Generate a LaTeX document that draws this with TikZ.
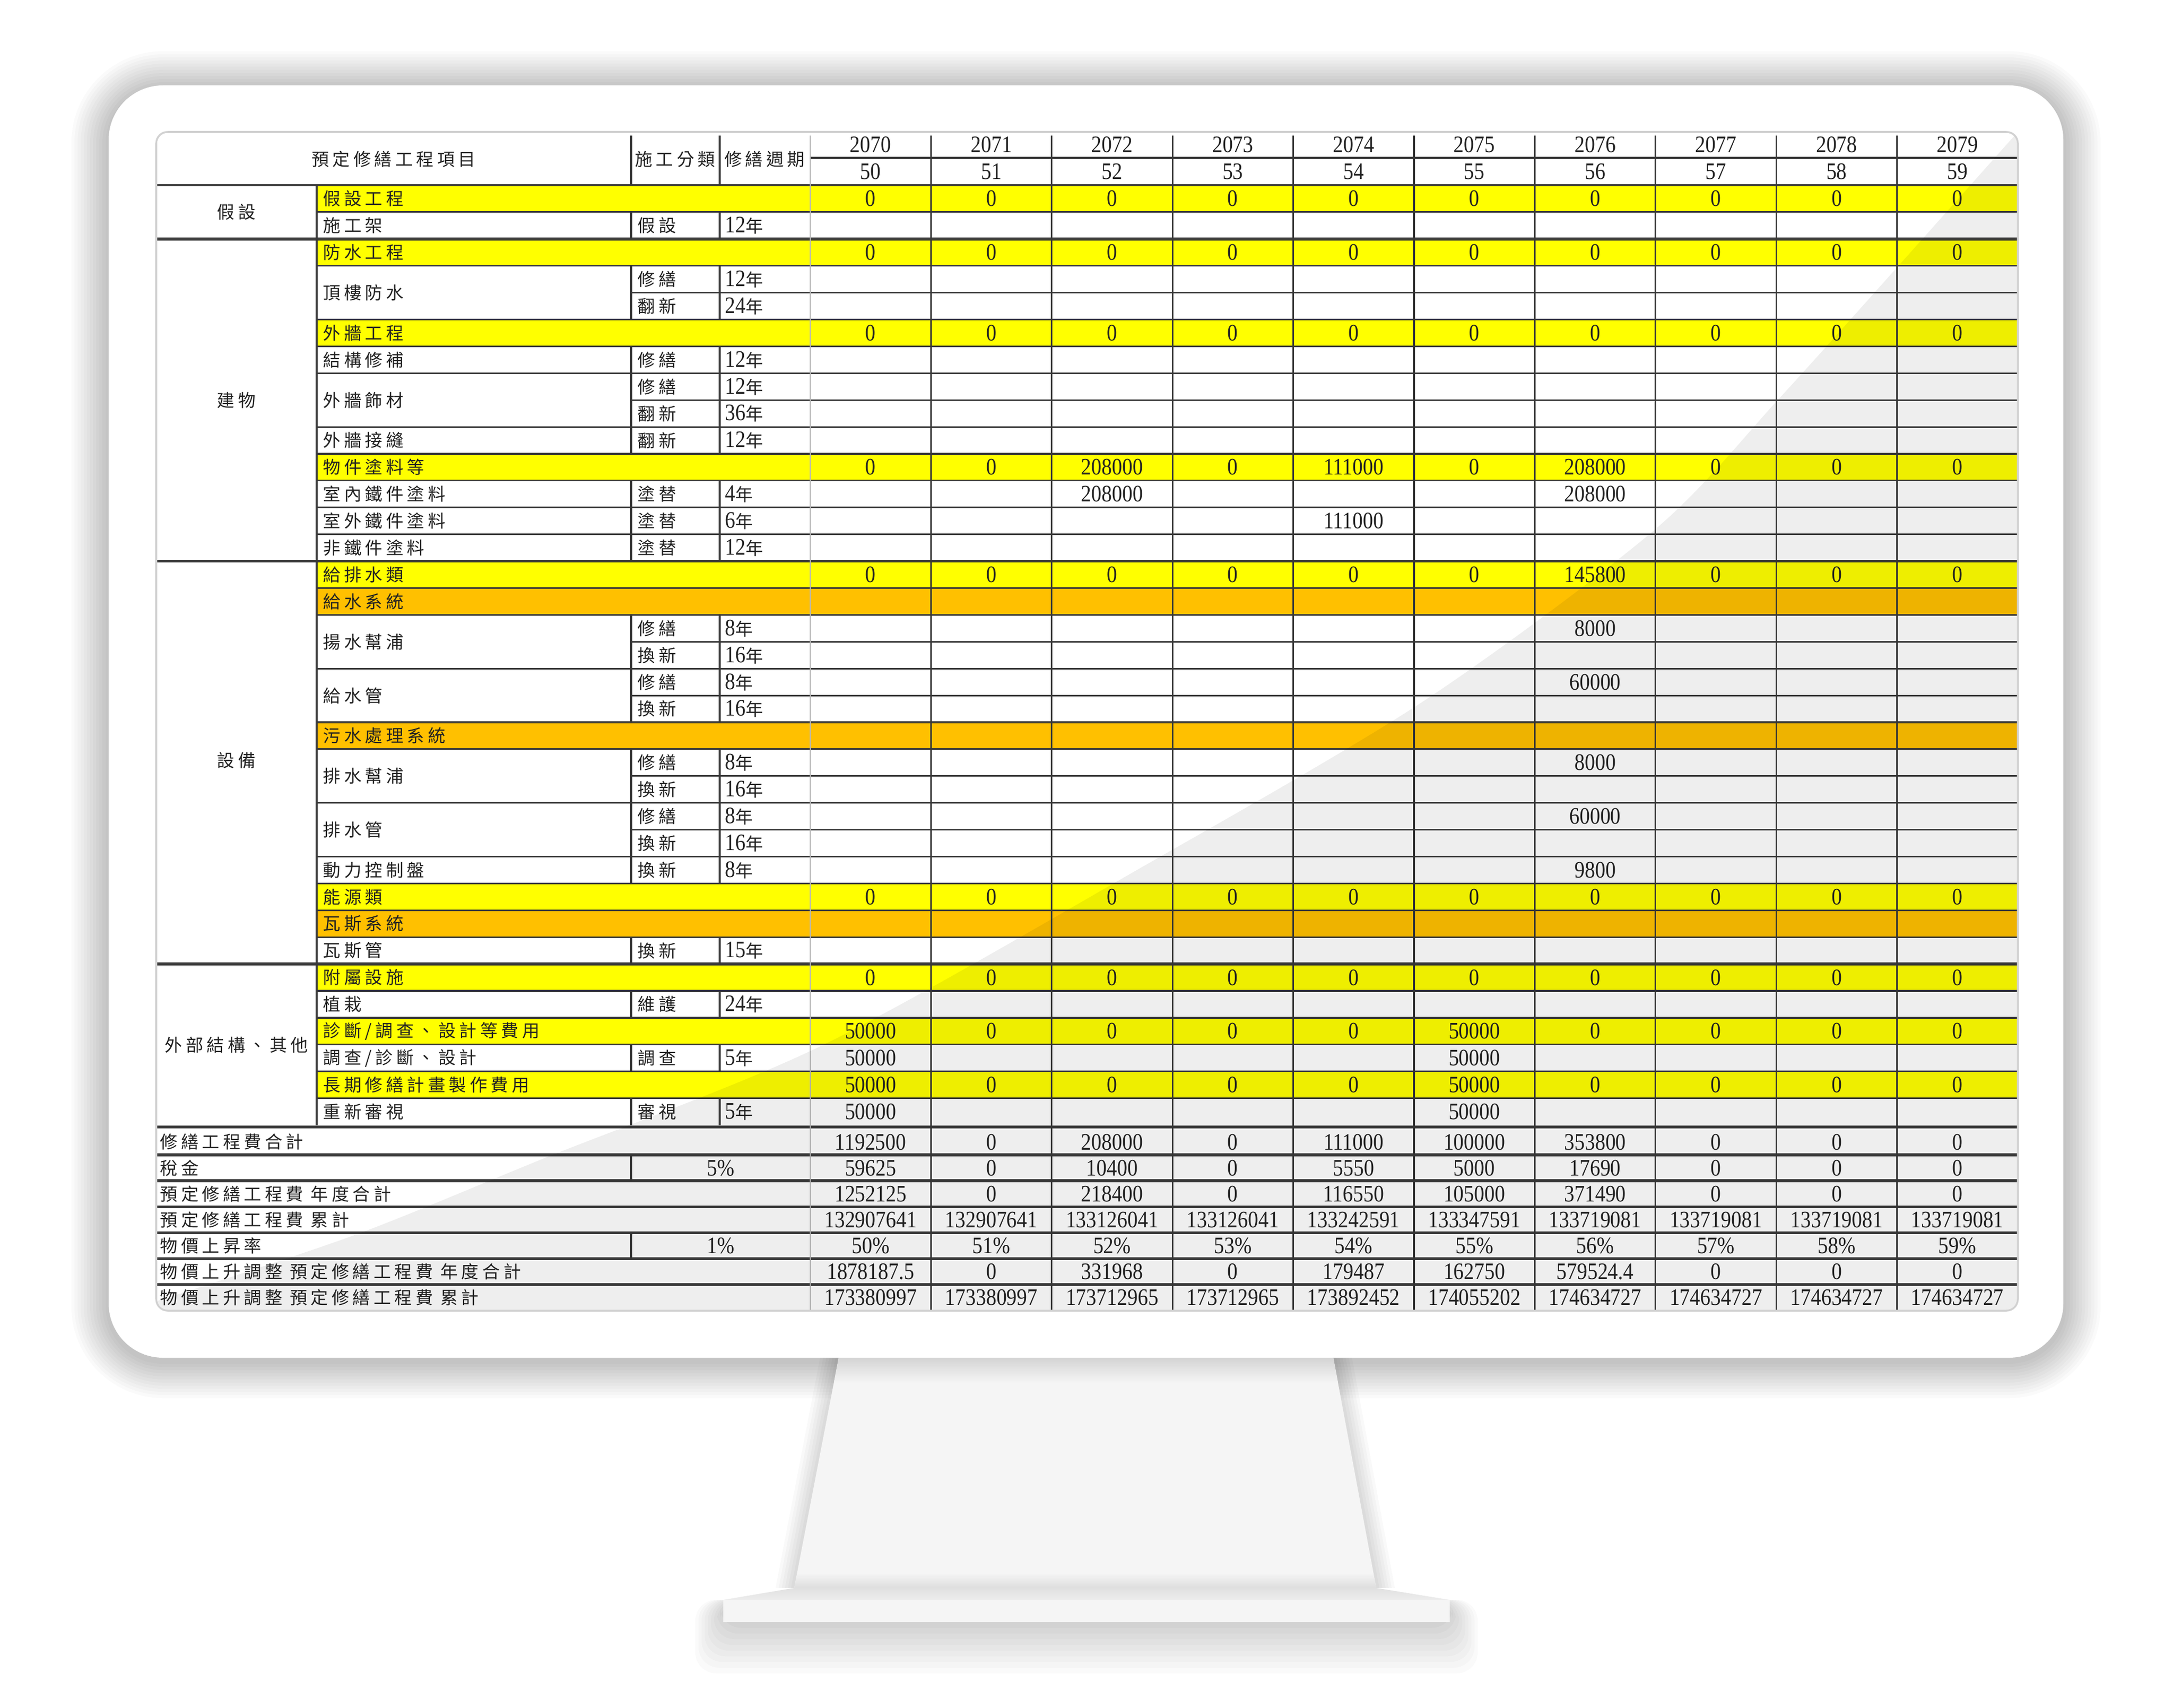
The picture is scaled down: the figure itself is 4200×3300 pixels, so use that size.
\documentclass[tikz,border=0pt]{standalone}
\usepackage{fontspec}
\setmainfont{Liberation Serif}[FakeStretch=0.87]
\newfontfamily\cjk{Noto Sans CJK TC}[LetterSpace=20]
\usetikzlibrary{calc}

\definecolor{cellyellow}{HTML}{FFFF00}
\definecolor{cellorange}{HTML}{FFC000}
\definecolor{gridline}{HTML}{383838}
\definecolor{textdark}{HTML}{222222}
\definecolor{standgray}{HTML}{F5F5F5}

\begin{document}
\begin{tikzpicture}[x=0.01cm,y=-0.01cm,
                num/.style={font=\fontsize{13}{13}\selectfont,text=textdark,inner sep=0pt},
                lbl/.style={font=\cjk\fontsize{9.6}{10}\selectfont,text=textdark,inner sep=0pt,anchor=west},
                cat/.style={font=\cjk\fontsize{9.6}{10}\selectfont,text=textdark,inner sep=0pt},
                grid/.style={draw=gridline,line width=0.9pt},
                heavy/.style={draw=gridline,line width=1.6pt},
                faint/.style={draw=black!28,line width=0.5pt}]
                \useasboundingbox[fill=white](0,0) rectangle (4200,3300);

                % shadows of frame, neck and base
                \foreach \i in {1,...,12}{
                    \pgfmathsetmacro\rr{1.05+\i*0.06}
                    \fill[black,opacity=0.02,rounded corners=\rr cm]({210-\i*6},{171-\i*6}) rectangle ({3988+\i*6},{2630+\i*6});
                }
                \foreach \i in {1,...,6}
                    \fill[black,opacity=0.022]({1621-\i*6},2624)--({2577+\i*6},2624)--({2660+\i*6},3069)--({1535-\i*6},3069)--cycle;
                \foreach \i in {1,...,9}
                    \fill[black,opacity=0.018,rounded corners=0.4cm]({1398-\i*6},3092) rectangle ({2802+\i*6},{3135+\i*11});

                % stand
                \fill[standgray](1621,2624)--(2577,2624)--(2660,3069)--(1535,3069)--cycle;
                \shade[top color=black!17,bottom color=standgray](1621,2624)--(2577,2624)--(2586,2672)--(1612,2672)--cycle;
                \shade[top color=standgray,bottom color=black!13](1541,3040)--(2654,3040)--(2660,3069)--(1535,3069)--cycle;
                \shade[top color=black!12,bottom color=black!7](1535,3069)--(2660,3069)--(2802,3092)--(1398,3092)--cycle;
                \fill[black!4](1398,3092) rectangle (2802,3135);

                % frame and screen
                \fill[white,rounded corners=1.05cm](210,165) rectangle (3988,2624);
                \begin{scope}
                \clip[rounded corners=0.22cm](302,255) rectangle (3900,2533);
                \fill[white](302,255) rectangle (3900,2533);

                \foreach \r in {1,3,6,11,15,27,30,32,34}
                    \fill[cellyellow](612,{358+(\r-1)*51.9}) rectangle (3900,{358+\r*51.9});
                \foreach \r in {16,21,28}
                    \fill[cellorange](612,{358+(\r-1)*51.9}) rectangle (3900,{358+\r*51.9});

                % horizontal rules
                \draw[grid](302,358)--(3900,358);
                \draw[grid](1566,305)--(3900,305);
                \foreach \r in {1,3,5,6,7,9,10,11,12,13,15,16,18,20,21,23,25,26,27,28,30,31,32,33,34}
                    \draw[grid](612,{358+\r*51.9})--(3900,{358+\r*51.9});
                \foreach \r in {4,8,17,19,22,24}
                    \draw[grid](1220,{358+\r*51.9})--(3900,{358+\r*51.9});
                \foreach \r in {2,14,29}
                    \draw[heavy](302,{358+\r*51.9})--(3900,{358+\r*51.9});
                \draw[draw=black!35,line width=2.4pt](302,2178)--(3900,2178);
                \draw[grid](302,2178)--(3900,2178);
                \foreach \k in {1,...,6}
                    \draw[heavy](302,{2182+\k*50.1})--(3900,{2182+\k*50.1});

                % vertical rules
                \draw[grid](612,358)--(612,2175);
                \draw[grid](1220,262)--(1220,358);
                \draw[grid](1391,262)--(1391,358);
                \foreach \r in {2,4,5,7,8,9,10,12,13,14,17,18,19,20,22,23,24,25,26,29,31,33,35}{
                    \draw[grid](1220,{358+(\r-1)*51.9})--(1220,{358+\r*51.9});
                    \draw[grid](1391,{358+(\r-1)*51.9})--(1391,{358+\r*51.9});
                }
                \foreach \k in {2,5}
                    \draw[grid](1220,{2182+(\k-1)*50.1})--(1220,{2182+\k*50.1});
                \draw[faint](1566,262)--(1566,2533);
                \foreach \j in {1,...,9}
                    \draw[grid]({1566+\j*233.4},262)--({1566+\j*233.4},2533);

                % header
                \node[cat](head)at(761, 308){預定修繕工程項目};
                \node[cat](headcls)at(1305, 308){施工分類};
                \node[cat](headper)at(1478, 308){修繕週期};
                \foreach \j in {1,...,10}{
                    \pgfmathtruncatemacro\yr{2069+\j}
                    \pgfmathtruncatemacro\ag{49+\j}
                    \node[num](yr-\j)at({1566+(\j-0.5)*233.4}, 280){\yr};
                    \node[num](age-\j)at({1566+(\j-0.5)*233.4}, 332){\ag};
                }

                % categories
                \node[cat](cat-1)at(457, 410){假設};
                \node[cat](cat-2)at(457, 774){建物};
                \node[cat](cat-3)at(457, 1470){設備};
                \node[cat](cat-4)at(457, 2020){外部結構、其他};

                % group rows
                \foreach \r/\t in {1/假設工程,3/防水工程,6/外牆工程,11/物件塗料等,15/給排水類,16/給水系統,
                    21/污水處理系統,27/能源類,28/瓦斯系統,30/附屬設施,32/{診斷/調查、設計等費用},34/長期修繕計畫製作費用}
                    \node[lbl](grp-\r)at(624,{358+(\r-0.5)*51.9}){\t};

                % items
                \foreach \r/\t in {2/施工架,4.5/頂樓防水,7/結構修補,8.5/外牆飾材,10/外牆接縫,12/室內鐵件塗料,
                    13/室外鐵件塗料,14/非鐵件塗料,17.5/揚水幫浦,19.5/給水管,22.5/排水幫浦,24.5/排水管,
                    26/動力控制盤,29/瓦斯管,31/植栽,33/{調查/診斷、設計},35/重新審視}
                    \node[lbl](item-\r)at(624,{358+(\r-0.5)*51.9}){\t};

                % work class and period
                \foreach \r/\c/\p in {2/假設/12,4/修繕/12,5/翻新/24,7/修繕/12,8/修繕/12,9/翻新/36,10/翻新/12,
                    12/塗替/4,13/塗替/6,14/塗替/12,17/修繕/8,18/換新/16,19/修繕/8,20/換新/16,22/修繕/8,
                    23/換新/16,24/修繕/8,25/換新/16,26/換新/8,29/換新/15,31/維護/24,33/調查/5,35/審視/5}{
                    \node[lbl](cls-\r)at(1232,{358+(\r-0.5)*51.9}){\c};
                    \node[lbl,font=\fontsize{13}{13}\selectfont](per-\r)at(1401,{358+(\r-0.5)*51.9}){\p{\cjk\fontsize{9.6}{10}\selectfont 年}};
                }

                % yearly values
                \foreach \r/\vals in {1/{0,0,0,0,0,0,0,0,0,0},3/{0,0,0,0,0,0,0,0,0,0},6/{0,0,0,0,0,0,0,0,0,0},
                    11/{0,0,208000,0,111000,0,208000,0,0,0},12/{,,208000,,,,208000,,,},13/{,,,,111000,,,,,},
                    15/{0,0,0,0,0,0,145800,0,0,0},17/{,,,,,,8000,,,},19/{,,,,,,60000,,,},
                    22/{,,,,,,8000,,,},24/{,,,,,,60000,,,},26/{,,,,,,9800,,,},
                    27/{0,0,0,0,0,0,0,0,0,0},30/{0,0,0,0,0,0,0,0,0,0},
                    32/{50000,0,0,0,0,50000,0,0,0,0},33/{50000,,,,,50000,,,,},
                    34/{50000,0,0,0,0,50000,0,0,0,0},35/{50000,,,,,50000,,,,}}
                    \foreach \v [count=\j] in \vals
                        \node[num](val-\r-\j)at({1566+(\j-0.5)*233.4},{358+(\r-0.5)*51.9}){\v};

                % totals
                \foreach \k/\t in {1/修繕工程費合計,2/稅金,3/預定修繕工程費 年度合計,4/預定修繕工程費 累計,
                    5/物價上昇率,6/物價上升調整 預定修繕工程費 年度合計,7/物價上升調整 預定修繕工程費 累計}
                    \node[lbl](sum-\k)at(309,{2182+(\k-0.5)*50.1}){\t};
                \node[num](rate-tax)at(1393,{2182+1.5*50.1}){5\%};
                \node[num](rate-price)at(1393,{2182+4.5*50.1}){1\%};
                \foreach \k/\vals in {1/{1192500,0,208000,0,111000,100000,353800,0,0,0},
                    2/{59625,0,10400,0,5550,5000,17690,0,0,0},
                    3/{1252125,0,218400,0,116550,105000,371490,0,0,0},
                    4/{132907641,132907641,133126041,133126041,133242591,133347591,133719081,133719081,133719081,133719081},
                    5/{50\%,51\%,52\%,53\%,54\%,55\%,56\%,57\%,58\%,59\%},
                    6/{1878187.5,0,331968,0,179487,162750,579524.4,0,0,0},
                    7/{173380997,173380997,173712965,173712965,173892452,174055202,174634727,174634727,174634727,174634727}}
                    \foreach \v [count=\j] in \vals
                        \node[num](sv-\k-\j)at({1566+(\j-0.5)*233.4},{2182+(\k-0.5)*50.1}){\v};

                % gloss
                \fill[black,opacity=0.068] plot[smooth] coordinates {(302,2515) (688,2386) (1053,2238) (1590,2020) (2200,1680) (2750,1356) (3198,1024) (3438,771) (3670,513) (3900,255)}
                    --(3900,2533)--(302,2533)--cycle;
                \end{scope}
                \draw[black!18,line width=1pt,rounded corners=0.22cm](302,255) rectangle (3900,2533);
\end{tikzpicture}
\end{document}
